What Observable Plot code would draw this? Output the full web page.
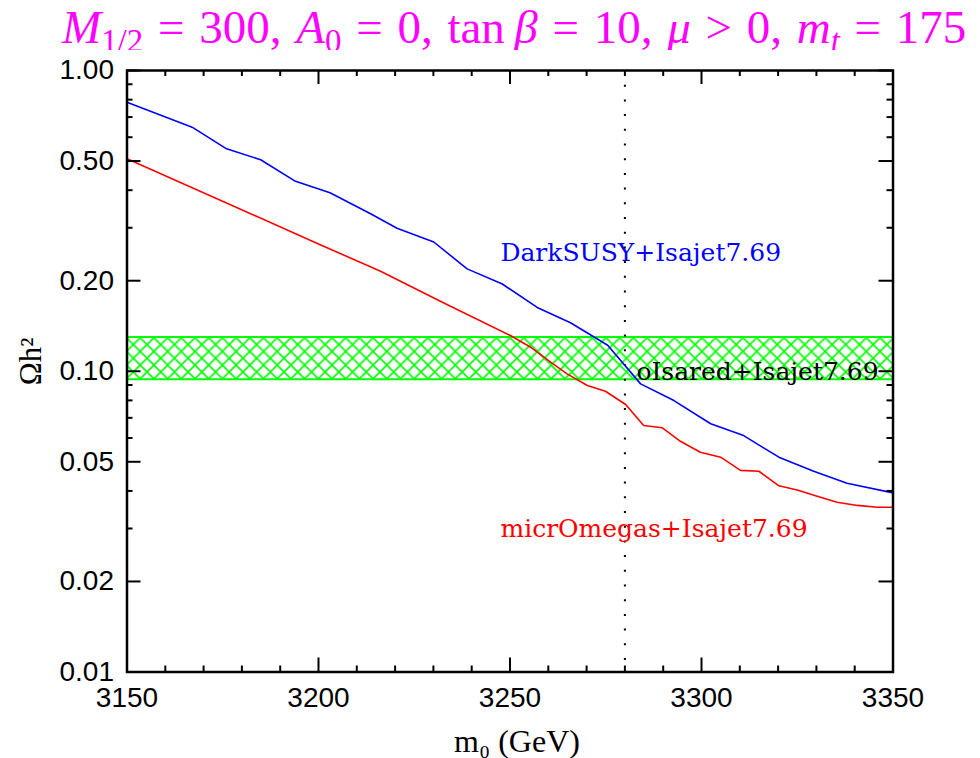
<!DOCTYPE html>
<html>
<head>
<meta charset="utf-8">
<script src="https://cdn.jsdelivr.net/npm/d3@7"></script>
<script src="https://cdn.jsdelivr.net/npm/@observablehq/plot@0.6"></script>
<style>
  html, body { margin: 0; padding: 0; background: #fff; width: 980px; height: 758px; overflow: hidden; }
  #title { position: absolute; left: 62px; top: 4px; font-family: "Liberation Serif", serif; font-size: 47px; line-height: 1; color: #ff00ff; white-space: nowrap; word-spacing: 3px; }
  #title sub { font-size: 0.7em; vertical-align: -0.28em; line-height: 0; }
  #chart { position: absolute; left: 0; top: 50px; }
</style>
</head>
<body>
<div id="title"><i>M</i><sub>1/2</sub> = 300, <i>A</i><sub>0</sub> = 0, tan&#8201;<i>β</i> = 10, <i>μ</i> &gt; 0, <i>m</i><sub><i>t</i></sub> = 175</div>
<div id="chart"></div>
<script>
// ---- data ----
const darkSusyX = [3150, 3167.0, 3176.0, 3184.9, 3194.0, 3203.0, 3213.6, 3220.5, 3230.1, 3238.8, 3248.0, 3257.1, 3265.8, 3275.5, 3284.1, 3292.8, 3302.4, 3311.0, 3320.2, 3329.3, 3338.0, 3350];
const darkSusyY = [0.784, 0.648, 0.549, 0.505, 0.428, 0.392, 0.334, 0.299, 0.269, 0.219, 0.195, 0.163, 0.145, 0.122, 0.0908, 0.0799, 0.0669, 0.0611, 0.0518, 0.0465, 0.0424, 0.0394];
const micromegasX = [3150, 3200, 3216.2, 3233, 3250.1, 3255.4, 3260.6, 3264.9, 3270.2, 3274.9, 3280.2, 3284.9, 3289.7, 3294.5, 3299.7, 3305.0, 3310.2, 3315.0, 3320.2, 3325.0, 3330.2, 3335.4, 3340.7, 3345.9, 3350];
const micromegasY = [0.509, 0.265, 0.215, 0.168, 0.1315, 0.1202, 0.1072, 0.098, 0.0897, 0.0858, 0.0775, 0.066, 0.0649, 0.0585, 0.0538, 0.0518, 0.0468, 0.0465, 0.0416, 0.0403, 0.0384, 0.0367, 0.0358, 0.0353, 0.0353];
const bandX = [3150, 3350];
const bandY = [0.094, 0.13];
const markerX = [3280];
const xMajor = [3150, 3200, 3250, 3300, 3350];
const xMinor = [3160, 3170, 3180, 3190, 3210, 3220, 3230, 3240, 3260, 3270, 3280, 3290, 3310, 3320, 3330, 3340];
const yMajor = [1, 0.5, 0.2, 0.1, 0.05, 0.02, 0.01];
const yMinor = [0.9, 0.8, 0.7, 0.6, 0.4, 0.3, 0.09, 0.08, 0.07, 0.06, 0.04, 0.03];
const labels = [
  {x: 3247.5, y: 0.247, text: "DarkSUSY+Isajet7.69", color: "#0000ff"},
  {x: 3283.0, y: 0.0993, text: "oIsared+Isajet7.69", color: "#000000"},
  {x: 3247.5, y: 0.0300, text: "micrOmegas+Isajet7.69", color: "#ff0000"}
];

const darkSusy = darkSusyX.map((x, i) => ({x, y: darkSusyY[i]}));
const micromegas = micromegasX.map((x, i) => ({x, y: micromegasY[i]}));

const W = 980, H = 708;
const mL = 126.5, mR = 87.5, mT = 20, mB = 86.5;
const pw = W - mL - mR, ph = H - mT - mB;
const majLen = 14, minLen = 6;
const sans = "Liberation Sans, Arial, sans-serif";
const serif = "DejaVu Serif, serif";

const plot = Plot.plot({
  width: W, height: H,
  marginLeft: mL, marginRight: mR, marginTop: mT, marginBottom: mB,
  x: {domain: [3150, 3350]},
  y: {type: "log", domain: [0.01, 1]},
  style: {background: "#fff"},
  marks: [
    Plot.rect([0], {x1: () => bandX[0], x2: () => bandX[1], y1: () => bandY[0], y2: () => bandY[1], fill: "url(#xhatch)"}),
    Plot.ruleY(bandY, {stroke: "#00ff00", strokeWidth: 2}),
    Plot.ruleX(markerX, {stroke: "#000", strokeWidth: 2, strokeDasharray: "2,12.7"}),
    Plot.line(micromegas, {x: "x", y: "y", stroke: "#ff0000", strokeWidth: 1.6}),
    Plot.line(darkSusy, {x: "x", y: "y", stroke: "#0000ff", strokeWidth: 1.6}),
    Plot.text(labels, {x: "x", y: "y", text: "text", fill: "color", textAnchor: "start", lineAnchor: "middle", fontFamily: serif, fontSize: 25}),
    // inward ticks
    Plot.ruleX(xMajor, {insetTop: ph - majLen, strokeWidth: 2}),
    Plot.ruleX(xMinor, {insetTop: ph - minLen, strokeWidth: 2}),
    Plot.ruleX(xMajor, {insetBottom: ph - majLen, strokeWidth: 2}),
    Plot.ruleX(xMinor, {insetBottom: ph - minLen, strokeWidth: 2}),
    Plot.ruleY(yMajor, {insetRight: pw - majLen, strokeWidth: 2}),
    Plot.ruleY(yMinor, {insetRight: pw - minLen, strokeWidth: 2}),
    Plot.ruleY(yMajor, {insetLeft: pw - majLen, strokeWidth: 2}),
    Plot.ruleY(yMinor, {insetLeft: pw - minLen, strokeWidth: 2}),
    Plot.axisX({ticks: xMajor, tickSize: 0, tickPadding: 15, tickFormat: d => String(d), fontSize: 28, fontFamily: sans, label: null}),
    Plot.axisY({ticks: yMajor, tickSize: 0, tickPadding: 13, tickFormat: d3.format(".2f"), fontSize: 28, fontFamily: sans, label: null}),
    Plot.frame({stroke: "#000", strokeWidth: 2.5}),
    Plot.text(["m₀ (GeV)"], {frameAnchor: "bottom", dx: 7, dy: 70, text: d => d, lineAnchor: "middle", fontFamily: "Liberation Serif, serif", fontSize: 32}),
    Plot.text(["Ωh²"], {frameAnchor: "left", dx: -96, dy: 14, rotate: -90, text: d => d, lineAnchor: "middle", fontFamily: "Liberation Serif, serif", fontSize: 31})
  ]
});

const svg = d3.select(plot);
const defs = svg.insert("defs", ":first-child");
const s = 13.7;
const pat = defs.append("pattern").attr("id", "xhatch").attr("patternUnits", "userSpaceOnUse")
  .attr("width", s).attr("height", s).attr("x", mL).attr("y", 0);
pat.append("path").attr("d", `M${-1},${-1}L${s + 1},${s + 1}M${s + 1},${-1}L${-1},${s + 1}`)
  .attr("stroke", "#00ff00").attr("stroke-width", 1.6).attr("fill", "none");

document.getElementById("chart").appendChild(plot);
</script>
</body>
</html>
